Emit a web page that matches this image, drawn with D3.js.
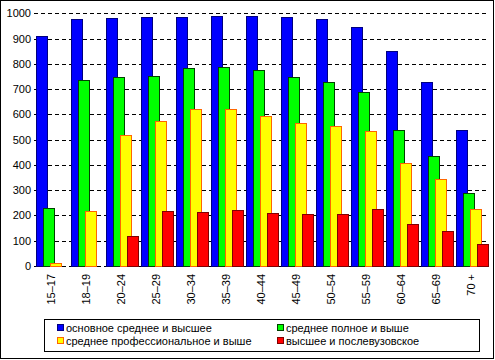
<!DOCTYPE html>
<html><head><meta charset="utf-8">
<script src="https://cdn.jsdelivr.net/npm/d3@7"></script>
<style>body{margin:0;background:#fff}svg{display:block}text{font-family:"Liberation Sans",Arial,sans-serif;font-size:11px;fill:#000}</style>
</head><body><svg id="c" width="495" height="360"></svg>
<script>
const categories = ["15–17","18–19","20–24","25–29","30–34","35–39","40–44","45–49","50–54","55–59","60–64","65–69","70 +"];
const seriesNames = ["основное среднее и высшее","среднее полное и выше","среднее профессиональное и выше","высшее и послевузовское"];
const basicSecondary = [912,978,983,987,987,991,991,987,978,946,852,730,537];
const fullSecondary = [228,737,749,753,784,788,776,749,729,690,540,434,287];
const vocational = [11,217,520,575,623,623,595,567,555,536,409,346,224];
const higher = [0,0,118,217,213,221,209,204,204,225,165,138,87];
const yTicks = [0,100,200,300,400,500,600,700,800,900,1000];
const fills = ["#0000ff","#00ff00","#ffff00","#ff0000"];
const strokes = ["#000080","#004000","#ff6600","#800000"];

const series = [basicSecondary, fullSecondary, vocational, higher];
const svg = d3.select("#c");
svg.append("rect").attr("x",0.5).attr("y",0.5).attr("width",493).attr("height",358).attr("fill","#fff").attr("stroke","#000");

const x = d3.scaleBand().domain(categories).range([34,489]);
const xs = d3.scalePoint().domain(seriesNames).range([2,23]);
const y = d3.scaleLinear().domain([0,1000]).range([266,13.3]);
const bw = 11;

// gridlines
svg.append("g").selectAll("line").data(yTicks).join("line")
  .attr("x1",34).attr("x2",488)
  .attr("y1",d=>Math.round(y(d))+0.5).attr("y2",d=>Math.round(y(d))+0.5)
  .attr("stroke","#000").attr("stroke-dasharray","4,3");

// y labels
const yAxis = d3.axisLeft(y).tickValues(yTicks).tickFormat(d3.format("d")).tickSize(0).tickPadding(0);
const ga = svg.append("g").attr("transform","translate(31,0)").call(yAxis);
ga.select(".domain").remove();
ga.selectAll("text").style("font-size","11px").style("font-family","'Liberation Sans',Arial,sans-serif").attr("fill","#000");

// bars
series.forEach((vals,si)=>{
  svg.append("g").selectAll("rect").data(vals.map((v,i)=>({v,c:categories[i]})).filter(d=>d.v>0)).join("rect")
    .attr("x",d=>Math.round(x(d.c)+xs(seriesNames[si]))+0.5)
    .attr("y",d=>Math.round(y(d.v))+0.5)
    .attr("width",bw)
    .attr("height",d=>Math.round(y(0))-Math.round(y(d.v)))
    .attr("fill",fills[si]).attr("stroke",strokes[si]).attr("stroke-width",1);
});

// x labels
svg.append("g").selectAll("text").data(categories).join("text")
  .attr("transform",d=>`translate(${x(d)+x.bandwidth()/2-1+4},274) rotate(-90)`)
  .attr("text-anchor","end").text(d=>d);

// legend
svg.append("rect").attr("x",44.5).attr("y",319.5).attr("width",435).attr("height",32).attr("fill","#fff").attr("stroke","#000");
const lx = [57,277], ly = [324,337];
seriesNames.forEach((n,i)=>{
  const cx = lx[i%2], cy = ly[Math.floor(i/2)];
  svg.append("rect").attr("x",cx+0.5).attr("y",cy+0.5).attr("width",6).attr("height",6).attr("fill",fills[i]).attr("stroke",strokes[i]);
  svg.append("text").attr("x",cx+9).attr("y",cy+8).text(n);
});
</script></body></html>
